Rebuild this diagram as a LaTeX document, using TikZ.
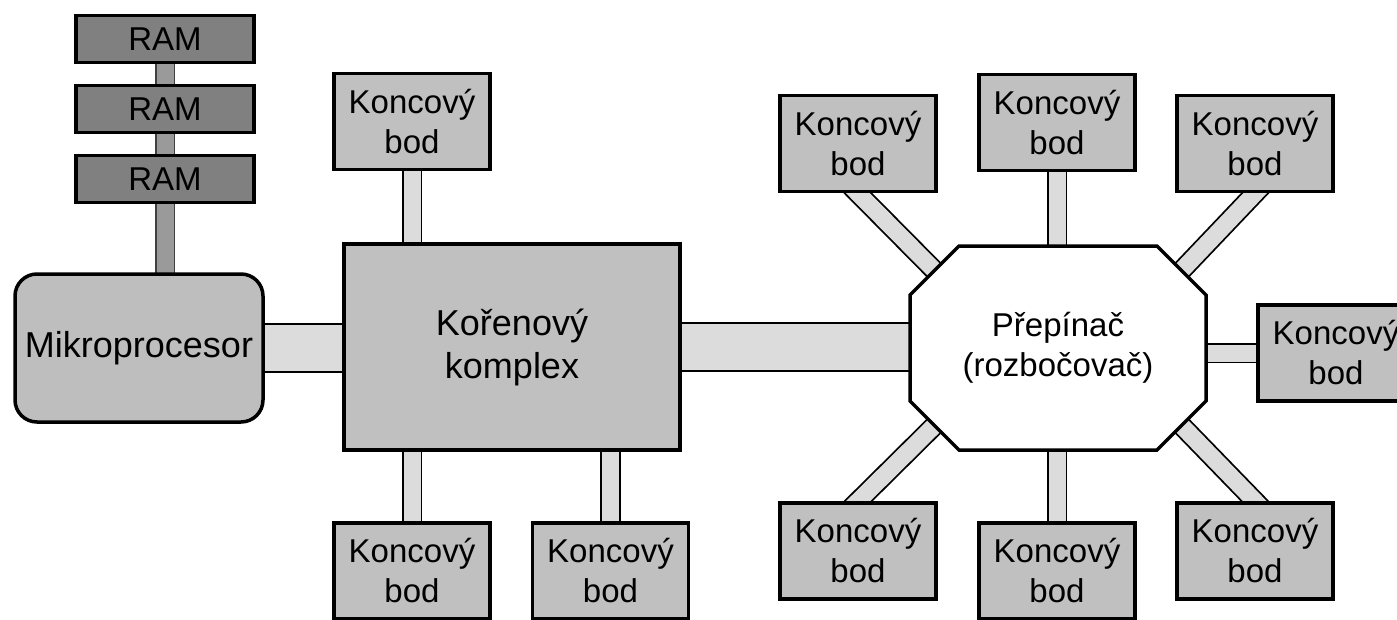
\documentclass[tikz,border=0pt]{standalone}
\usepackage{fontspec}
\setmainfont{Liberation Sans}
\usetikzlibrary{calc}
\pgfdeclarelayer{bg}
\pgfsetlayers{bg,main}
\definecolor{epfill}{HTML}{C0C0C0}
\definecolor{ramfill}{HTML}{808080}
\definecolor{linkfill}{HTML}{DCDCDC}
\definecolor{ramlink}{HTML}{9A9A9A}
\definecolor{cpufill}{HTML}{BEBEBE}
\tikzset{
  box/.style={draw=black, line width=3.5, inner sep=0, align=center},
  endpoint/.style={box, fill=epfill, minimum width=156, minimum height=96, font=\fontsize{33}{40}\selectfont},
  ramchip/.style={box, fill=ramfill, minimum width=178, minimum height=47, font=\fontsize{33}{40}\selectfont},
  link/.style={draw=black, line width=1.8, double=linkfill, double distance=17},
  bus/.style={draw=black, line width=1.8, double=linkfill, double distance=46},
  ramlinkstyle/.style={draw=black!75, line width=1.5, double=ramlink, double distance=17},
  octa/.style={draw=black, line width=3.5, fill=white, line join=miter},
}
\begin{document}
\begin{tikzpicture}[x=1pt, y=-1pt]
\useasboundingbox (0,0) rectangle (1397,619);
% RAM and CPU
\node[ramchip] (ram1) at (165,39) {RAM};
\node[ramchip] (ram2) at (165,109) {RAM};
\node[ramchip] (ram3) at (165,179) {RAM};
\node[box, fill=cpufill, rounded corners=22, minimum width=248, minimum height=148, font=\fontsize{36}{43}\selectfont] (cpu) at (139,348) {Mikroprocesor};
% root complex
\node[box, fill=epfill, minimum width=336, minimum height=206, font=\fontsize{36}{43}\selectfont] (root) at (512,347) {Kořenový\\komplex};
\node[endpoint] (ep1) at (412,121.5) {Koncový\\bod};
\node[endpoint] (ep2) at (412,571) {Koncový\\bod};
\node[endpoint] (ep3) at (610.5,571) {Koncový\\bod};
% switch
\coordinate (swc) at (1058,348);
\coordinate (o1) at ($(swc)+(-99,-102)$);
\coordinate (o2) at ($(swc)+(99,-102)$);
\coordinate (o3) at ($(swc)+(148,-53)$);
\coordinate (o4) at ($(swc)+(148,53)$);
\coordinate (o5) at ($(swc)+(99,102)$);
\coordinate (o6) at ($(swc)+(-99,102)$);
\coordinate (o7) at ($(swc)+(-148,53)$);
\coordinate (o8) at ($(swc)+(-148,-53)$);
\coordinate (swNW) at ($(o8)!0.5!(o1)$);
\coordinate (swNE) at ($(o2)!0.5!(o3)$);
\coordinate (swSE) at ($(o4)!0.5!(o5)$);
\coordinate (swSW) at ($(o6)!0.5!(o7)$);
\draw[octa] (o1) -- (o2) -- (o3) -- (o4) -- (o5) -- (o6) -- (o7) -- (o8) -- cycle;
\node[align=center, inner sep=0, font=\fontsize{33}{40}\selectfont] (sw) at (swc) {Přepínač\\(rozbočovač)};
\node[endpoint] (tl) at (858,143.5) {Koncový\\bod};
\node[endpoint] (tm) at (1057,122.5) {Koncový\\bod};
\node[endpoint] (tr) at (1255,143.5) {Koncový\\bod};
\node[endpoint] (bl) at (858,551) {Koncový\\bod};
\node[endpoint] (bm) at (1057,571) {Koncový\\bod};
\node[endpoint] (br) at (1255,551) {Koncový\\bod};
\node[endpoint] (rt) at (1336,353) {Koncový\\bod};
% connectors
\begin{pgfonlayer}{bg}
\draw[ramlinkstyle] (ram1) -- (ram2);
\draw[ramlinkstyle] (ram2) -- (ram3);
\draw[ramlinkstyle] (ram3) -- (ram3 |- cpu);
\draw[bus] (cpu) -- (cpu -| root);
\draw[link] (ep1) -- (ep1 |- root);
\draw[link] (ep2) -- (ep2 |- root);
\draw[link] (ep3) -- (ep3 |- root);
\draw[bus] (root) -- (root -| swc);
\draw[link] (tm) -- (tm |- swc);
\draw[link] (bm) -- (bm |- swc);
\draw[link] (rt) -- (rt -| swc);
\draw[link, shorten <=-15, shorten >=-15] (tl.south) -- (swNW);
\draw[link, shorten <=-15, shorten >=-15] (tr.south) -- (swNE);
\draw[link, shorten <=-15, shorten >=-15] (bl.north) -- (swSW);
\draw[link, shorten <=-15, shorten >=-15] (br.north) -- (swSE);
\end{pgfonlayer}
\end{tikzpicture}
\end{document}
